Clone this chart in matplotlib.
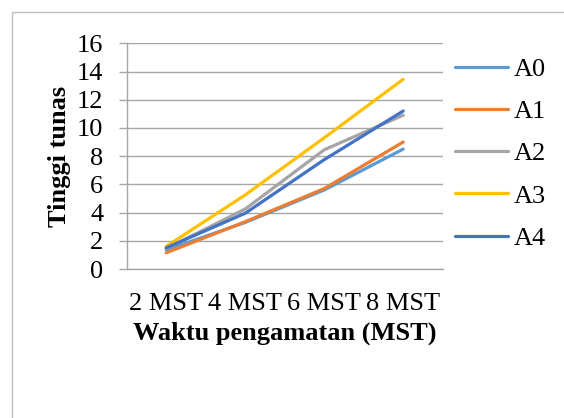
import numpy as np
import matplotlib.pyplot as plt
from matplotlib.patches import Rectangle

categories = ["2 MST", "4 MST", "6 MST", "8 MST"]
series_names = ["A0", "A1", "A2", "A3", "A4"]
a0 = [1.35, 3.3, 5.6, 8.5]
a1 = [1.15, 3.35, 5.7, 9.0]
a2 = [1.45, 4.25, 8.45, 10.9]
a3 = [1.6, 5.25, 9.3, 13.45]
a4 = [1.5, 3.95, 7.75, 11.2]
colors = ["#5B9BD5", "#ED7D31", "#A5A5A5", "#FFC000", "#4472C4"]

GRID = "#a6a6a6"
FS = 19


def main():
    plt.rcParams["font.family"] = ["Liberation Serif", "DejaVu Serif"]
    fig = plt.figure(figsize=(5.64, 4.18), dpi=100)

    # outer chart frame (extends past the image on right/bottom)
    fig.patches.append(Rectangle((12 / 564, -0.1), 1.0, 1 - 12 / 418 + 0.1,
                                 transform=fig.transFigure, fill=False,
                                 edgecolor="#bfbfbf", linewidth=1.0))

    ax = fig.add_axes([126.7 / 564, 1 - 269 / 418, 316 / 564, (269 - 43.3) / 418])
    x = np.arange(len(categories))
    for name, vals, c in zip(series_names, [a0, a1, a2, a3, a4], colors):
        ax.plot(x, vals, color=c, linewidth=2.3, label=name, solid_capstyle="round")

    ax.set_xlim(-0.5, len(categories) - 0.5)
    ax.set_ylim(0, 16)
    ax.set_yticks(np.arange(0, 17, 2))
    ax.set_xticks(x)
    ax.set_xticklabels(categories)
    ax.yaxis.grid(True, color=GRID, linewidth=1.0)
    ax.set_axisbelow(True)
    for s in ["top", "right"]:
        ax.spines[s].set_visible(False)
    for s in ["left", "bottom"]:
        ax.spines[s].set_color(GRID)
        ax.spines[s].set_linewidth(1.0)
    ax.tick_params(axis="y", length=5.8, color=GRID, width=1.0, pad=11, labelsize=FS)
    ax.tick_params(axis="x", length=0, pad=17, labelsize=FS)

    ax.set_ylabel("Tinggi tunas", fontsize=FS, fontweight="bold", labelpad=4)
    ax.set_xlabel("Waktu pengamatan (MST)", fontsize=FS, fontweight="bold", labelpad=5)

    fig.legend(loc="center left", bbox_to_anchor=(455 / 564, 1 - 153.7 / 418),
               frameon=False, fontsize=FS, handlelength=2.0, handletextpad=0.22,
               labelspacing=0.71, borderaxespad=0, borderpad=0)

    fig.savefig("out.png", dpi=100)


if __name__ == "__main__":
    main()
